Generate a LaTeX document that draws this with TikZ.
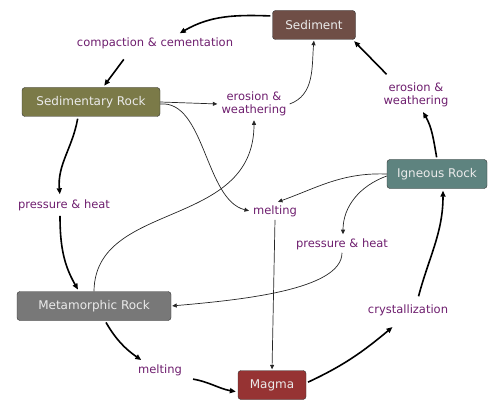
\documentclass[tikz,border=0pt]{standalone}
\usepackage{fontspec}
\setmainfont{DejaVu Sans}
\usepackage{tikz}
\usetikzlibrary{arrows.meta,positioning,calc}
\usepackage{xcolor}
\definecolor{cSed}{RGB}{111,78,70}
\definecolor{cSedR}{RGB}{123,122,72}
\definecolor{cIgn}{RGB}{94,131,127}
\definecolor{cMet}{RGB}{120,120,120}
\definecolor{cMag}{RGB}{150,51,51}
\definecolor{cProc}{RGB}{110,30,110}

\begin{document}
\begin{tikzpicture}[
    x=1pt, y=1pt,
    rock/.style={rectangle,draw=black!80,rounded corners=3pt,minimum height=29pt,text=white!92!black,font=\fontsize{12}{14}\selectfont},
    proc/.style={text=cProc,align=center,inner sep=3pt,font=\fontsize{11.5}{13}\selectfont},
    cyc/.style={-{Triangle[length=6pt,width=5pt]},line width=1.6pt,shorten <=2pt,shorten >=2pt},
    link/.style={-{Triangle[length=4.5pt,width=4pt]},line width=0.7pt,draw=black!85,shorten >=1pt}
  ]
  \useasboundingbox (0,0) rectangle (490,-401);
  % rocks
  \node[rock,fill=cSed,minimum width=83pt]   (sed)  at (314,-25)  {Sediment};
  \node[rock,fill=cSedR,minimum width=138pt] (sedr) at (91,-102)  {Sedimentary Rock};
  \node[rock,fill=cIgn,minimum width=100pt]  (ign)  at (437,-174) {Igneous Rock};
  \node[rock,fill=cMet,minimum width=154pt]  (met)  at (94,-306)  {Metamorphic Rock};
  \node[rock,fill=cMag,minimum width=68pt]   (mag)  at (272,-385) {Magma};

  % processes
  \node[proc] (comp)  at (155,-43)  {compaction \& cementation};
  \node[proc] (ero1)  at (254,-104) {erosion \&\\weathering};
  \node[proc] (ero2)  at (416,-95)  {erosion \&\\weathering};
  \node[proc] (ph1)   at (64,-205)  {pressure \& heat};
  \node[proc] (melt1) at (275,-211) {melting};
  \node[proc] (ph2)   at (342,-244) {pressure \& heat};
  \node[proc] (cry)   at (408,-310) {crystallization};
  \node[proc] (melt2) at (160,-370) {melting};

  % main cycle
  \draw[cyc] ([yshift=9pt]sed.west) to[out=178,in=30] ([xshift=23pt]comp.north);
  \draw[cyc] ([xshift=-30pt,yshift=-6pt]comp.south) -- ([xshift=12pt]sedr.north);
  \draw[cyc] ([xshift=-13pt]sedr.south) to[out=-100,in=95] ([xshift=-4pt]ph1.north);
  \draw[cyc] ([xshift=-4pt]ph1.south) to[out=-90,in=120] ([xshift=-15pt]met.north);
  \draw[cyc] ([xshift=11pt]met.south) to[out=-60,in=145] ([xshift=8pt]melt2.north west);
  \draw[cyc] ([xshift=6pt]melt2.south east) to[out=-10,in=170] ([yshift=-7pt]mag.west);
  \draw[cyc] ([yshift=2pt]mag.east) to[out=25,in=-140] ([xshift=-14pt,yshift=-7pt]cry.south);
  \draw[cyc] ([xshift=10pt,yshift=3pt]cry.north) to[out=75,in=-90] ([xshift=6pt]ign.south);
  \draw[cyc] (ign.north) to[out=100,in=-60] ([xshift=6pt]ero2.south);
  \draw[cyc] ([xshift=-28pt,yshift=4pt]ero2.north) -- ([xshift=-3pt]sed.south east);

  % cross links
  \draw[link] (sedr.east) -- (ero1.west);
  \draw[link] (ero1.east) to[out=20,in=-95] (sed.south);
  \draw[link] ([yshift=-2pt]sedr.east) .. controls (205,-100) and (205,-200) .. (melt1.west);
  \draw[link] (met.north) .. controls (95,-200) and (254,-230) .. (ero1.south);
  \draw[link] (ign.west) to[out=178,in=20] ([xshift=2pt]melt1.north);
  \draw[link] ([yshift=-2pt]ign.west) to[out=200,in=90] ([xshift=1pt]ph2.north);
  \draw[link] (ph2.south) .. controls (342,-290) and (240,-300) .. (met.east);
  \draw[link] (melt1.south) -- (mag.north);
\end{tikzpicture}
\end{document}
